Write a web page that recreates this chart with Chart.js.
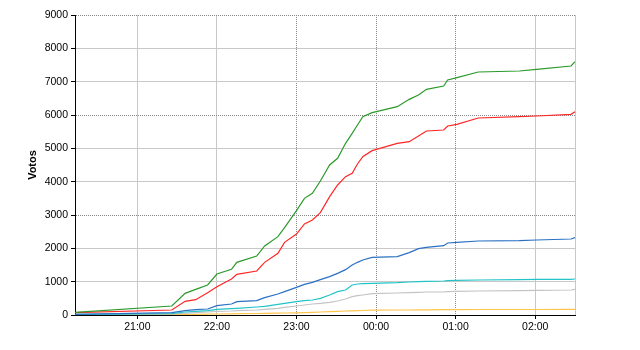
<!DOCTYPE html>
<html>
<head>
<meta charset="utf-8">
<script src="https://cdn.jsdelivr.net/npm/chart.js@4/dist/chart.umd.min.js"></script>
<style>
    html, body { margin: 0; padding: 0; background: #fff; }
    #wrap { width: 640px; height: 350px; }
</style>
</head>
<body>
<div id="wrap"><canvas id="votesChart"></canvas></div>
<script>
// sample times (after midnight counts as next day)
const times = ['20:13', '21:26', '21:36', '21:44', '21:53', '22:00', '22:11', '22:15', '22:30', '22:36',
    '22:46', '22:51', '23:00', '23:06', '23:12', '23:18', '23:25', '23:31', '23:37', '23:42',
    '23:46', '23:50', '23:57', '00:16', '00:25', '00:32', '00:38', '00:51', '00:54', '01:01',
    '01:17', '01:48', '02:01', '02:27', '02:30'];

const greenVotes = [80, 270, 650, 770, 900, 1230, 1370, 1580, 1770, 2070,
    2350, 2620, 3130, 3500, 3650, 4020, 4500, 4700, 5150, 5450,
    5700, 5950, 6070, 6250, 6470, 6600, 6770, 6870, 7050, 7120,
    7290, 7320, 7370, 7470, 7600];
const redVotes = [70, 150, 410, 460, 670, 850, 1080, 1220, 1320, 1580,
    1850, 2180, 2430, 2730, 2850, 3070, 3550, 3900, 4150, 4250,
    4530, 4750, 4930, 5150, 5200, 5370, 5520, 5550, 5670, 5720,
    5910, 5950, 5970, 6020, 6100];
const blueVotes = [20, 70, 130, 160, 180, 280, 330, 400, 430, 520,
    630, 700, 830, 920, 980, 1060, 1150, 1250, 1360, 1500,
    1580, 1650, 1730, 1750, 1870, 1990, 2030, 2080, 2160, 2180,
    2220, 2230, 2250, 2280, 2320];
const cyanVotes = [20, 40, 90, 110, 130, 170, 190, 200, 240, 260,
    320, 350, 400, 430, 450, 500, 600, 700, 750, 900,
    930, 940, 950, 970, 990, 1000, 1010, 1020, 1030, 1040,
    1050, 1060, 1070, 1070, 1080];
const grayVotes = [10, 30, 50, 70, 90, 110, 120, 130, 150, 170,
    200, 230, 270, 300, 330, 350, 380, 420, 480, 550,
    580, 600, 640, 660, 670, 680, 690, 690, 700, 710,
    720, 730, 740, 750, 770];
const orangeVotes = [0, 10, 15, 20, 25, 30, 35, 40, 45, 50,
    55, 60, 65, 70, 80, 90, 100, 110, 120, 125,
    130, 135, 145, 150, 150, 155, 155, 160, 160, 160,
    165, 165, 165, 170, 170];

const xTickLabels = ['21:00', '22:00', '23:00', '00:00', '01:00', '02:00'];
const yTicks = [0, 1000, 2000, 3000, 4000, 5000, 6000, 7000, 8000, 9000];

// which grid lines come out dotted in the original
const xDotted = ['23:00', '00:00', '01:00'];
const yDotted = [3000, 6000, 9000];

const toHours = (s) => {
    const [h, m] = s.split(':').map(Number);
    return (h < 12 ? h + 24 : h) + m / 60;
};
const xMin = toHours(times[0]);
const xMax = toHours(times[times.length - 1]);
const font = {family: 'Arial, "Liberation Sans", sans-serif', size: 10.5};

const series = [
    {data: greenVotes, color: '#2b9a2b'},
    {data: redVotes, color: '#ff2626'},
    {data: blueVotes, color: '#2a70c4'},
    {data: cyanVotes, color: '#22c4c8'},
    {data: grayVotes, color: '#c4c4c4'},
    {data: orangeVotes, color: '#ffc44c'},
];

const dottedX = xDotted.map(toHours);

new Chart(document.getElementById('votesChart'), {
    type: 'line',
    data: {
        datasets: series.map(s => ({
            data: s.data.map((v, i) => ({x: toHours(times[i]), y: v})),
            borderColor: s.color,
            borderWidth: 1.2,
            pointRadius: 0,
            tension: 0,
            fill: false,
        }))
    },
    options: {
        responsive: true,
        maintainAspectRatio: false,
        animation: false,
        layout: {padding: {top: 15, right: 65, left: 0, bottom: 0}},
        plugins: {legend: {display: false}, tooltip: {enabled: false}},
        scales: {
            x: {
                type: 'linear',
                min: xMin,
                max: xMax,
                afterBuildTicks: (scale) => {
                    scale.ticks = xTickLabels.map(l => ({value: toHours(l)})).concat([{value: xMax}]);
                },
                afterFit: (scale) => { scale.height = 35; },
                ticks: {
                    autoSkip: false,
                    maxRotation: 0,
                    padding: 2,
                    color: '#000',
                    font: font,
                    callback: (v, i) => i < xTickLabels.length ? xTickLabels[i] : '',
                },
                grid: {
                    color: (ctx) => ctx.tick && dottedX.some(d => Math.abs(d - ctx.tick.value) < 0.01) ? '#888' : '#c8c8c8',
                    tickColor: (ctx) => ctx.index < xTickLabels.length ? '#000' : 'rgba(0,0,0,0)',
                    tickLength: 4,
                    lineWidth: 1,
                },
                border: {
                    color: '#000',
                    width: 1,
                    dash: (ctx) => ctx.tick && dottedX.some(d => Math.abs(d - ctx.tick.value) < 0.01) ? [1, 1] : [],
                },
            },
            y: {
                min: 0,
                max: 9000,
                afterBuildTicks: (scale) => { scale.ticks = yTicks.map(v => ({value: v})); },
                afterFit: (scale) => { scale.width = 75; },
                ticks: {padding: 3, color: '#000', font: font, callback: (v) => String(v)},
                title: {
                    display: true,
                    text: 'Votos',
                    color: '#000',
                    font: {family: font.family, size: 11, weight: 'bold'},
                    padding: {top: 26, bottom: 0},
                },
                grid: {
                    color: (ctx) => ctx.tick && yDotted.includes(ctx.tick.value) ? '#888' : '#c8c8c8',
                    tickColor: '#000',
                    tickLength: 4,
                    lineWidth: 1,
                },
                border: {
                    color: '#000',
                    width: 1,
                    dash: (ctx) => ctx.tick && yDotted.includes(ctx.tick.value) ? [1, 1] : [],
                },
            },
        },
    },
});
</script>
</body>
</html>
